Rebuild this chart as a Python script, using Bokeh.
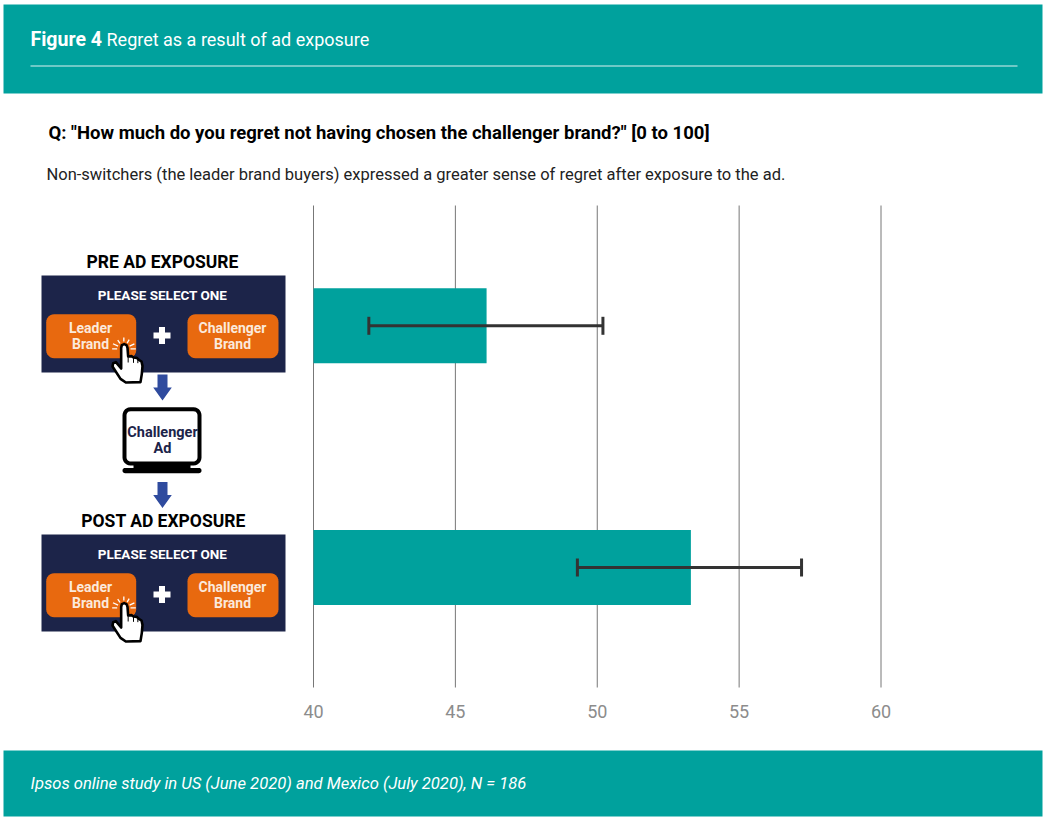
from bokeh.plotting import figure
from bokeh.models import Range1d, LinearAxis, FixedTicker, Whisker, TeeHead, ColumnDataSource
from bokeh.core.properties import value
from bokeh.embed import file_html
from bokeh.resources import INLINE
import math

# ---- data
categories = ["Pre ad exposure", "Post ad exposure"]
regret = [46.1, 53.3]
err_low = [41.95, 49.3]
err_high = [50.2, 57.2]
ticks = [40, 45, 50, 55, 60]

title_bold = "Figure 4"
title_rest = "Regret as a result of ad exposure"
question = 'Q: "How much do you regret not having chosen the challenger brand?" [0 to 100]'
subtitle = "Non-switchers (the leader brand buyers) expressed a greater sense of regret after exposure to the ad."
footer = "Ipsos online study in US (June 2020) and Mexico (July 2020), N = 186"

# ---- style
TEAL = "#00A19D"; NAVY = "#1C2449"; ORANGE = "#E8690F"; BLUE = "#2F4B9E"
W, H = 1049, 821
BODY = value("Roboto")

# the frame fills the canvas; y is measured in pixels from the top
PX_40, PX_60 = 313, 880.5
ppu = (PX_60 - PX_40) / 20
x_range = Range1d(40 - PX_40 / ppu, 40 + (W - PX_40) / ppu)
p = figure(width=W, height=H, x_range=x_range, y_range=Range1d(H, 0),
           output_backend="svg", toolbar_location=None, x_axis_type=None, y_axis_type=None,
           min_border=0, outline_line_color=None, background_fill_color="white")
p.styles = {"position": "absolute", "left": "0px", "top": "0px"}
p.grid.visible = False

# category scale: index 0 at the first bar's centre, index 1 at the second's
Y0, Y1 = 325.3, 567
step = Y1 - Y0
p.extra_y_ranges["cat"] = Range1d(start=(H - Y0) / step, end=-Y0 / step)

def X(px):
    return 40 + (px - PX_40) / ppu

def rrect(x0, y0, x1, y1, r, n=6):
    xs, ys = [], []
    for cx, cy, a0 in [(x1 - r, y0 + r, -90), (x1 - r, y1 - r, 0), (x0 + r, y1 - r, 90), (x0 + r, y0 + r, 180)]:
        for i in range(n + 1):
            a = math.radians(a0 + 90 * i / n)
            xs.append(X(cx + r * math.cos(a))); ys.append(cy + r * math.sin(a))
    return xs, ys

def txt(px, y, s, size, color="black", style="normal", align="left"):
    p.text(x=[X(px)], y=[y], text=[s], text_font=BODY, text_font_size=f"{size}px", text_font_style=style,
           text_color=color, text_align=align, text_baseline="middle")

def box(x0, y0, x1, y1, color):
    p.quad(left=[X(x0)], right=[X(x1)], top=[y0], bottom=[y1], fill_color=color, line_color=None)

# ---- banners
box(3, 4, 1042, 93, TEAL)
box(3, 750, 1042, 816, TEAL)
p.segment(x0=[X(30)], x1=[X(1017)], y0=[65.5], y1=[65.5], line_color="#DDF1F0", line_width=1)
txt(30, 38.5, title_bold, 19.5, "white", "bold")
txt(106, 38.5, title_rest, 18, "white")
txt(30, 782.5, footer, 16.6, "white", "italic")
txt(48, 132.5, question, 18.5, "black", "bold")
txt(46, 173.5, subtitle, 16.5, "#222222")

# ---- chart
p.segment(x0=ticks, x1=ticks, y0=[205] * len(ticks), y1=[687] * len(ticks), line_color="#777777", line_width=1)
src = ColumnDataSource(dict(idx=list(range(len(categories))), left=[ticks[0]] * len(regret), right=regret,
                            low=err_low, high=err_high, name=categories))
p.hbar(y="idx", height=0.31, left="left", right="right", source=src, y_range_name="cat",
       fill_color=TEAL, line_color=None)
p.add_layout(Whisker(source=src, base="idx", lower="low", upper="high", dimension="width", y_range_name="cat",
                     level="overlay", line_color="#333333", line_width=3,
                     lower_head=TeeHead(size=18, line_color="#333333", line_width=3),
                     upper_head=TeeHead(size=18, line_color="#333333", line_width=3)))

ax = LinearAxis(ticker=FixedTicker(ticks=ticks), fixed_location=698, axis_line_color=None,
                major_tick_line_color=None, minor_tick_line_color=None,
                major_label_text_font="Roboto", major_label_text_font_size="18px",
                major_label_text_color="#8C8C8C", major_label_standoff=0)
p.add_layout(ax, "below")

# ---- left-hand schematic
hand_outline = [(272,322),(274,314),(281,311),(288,314),(291,322),(293,348),(303,347),(309,351),(319,352),(325,358),(333,363),
                (336,376),(334,400),(330,425),(286,426),(270,415),(246,378),(248,368),(256,365),(272,384)]
rays = [(180,20,35),(205,19,36),(235,20,32),(270,22,34),(300,20,32),(335,19,35),(0,20,36)]

def panel(dy):
    box(41, 275 + dy, 285, 372 + dy, NAVY)
    txt(162, 294.5 + dy, "PLEASE SELECT ONE", 13.5, "white", "bold", "center")
    for x0, x1 in [(45.7, 135.7), (187, 278)]:
        xs, ys = rrect(x0, 313.7 + dy, x1, 357.7 + dy, 8)
        p.patch(xs, ys, fill_color=ORANGE, line_color=None)
    txt(90, 327 + dy, "Leader", 14, "#FBE9DC", "bold", "center")
    txt(90, 343 + dy, "Brand", 14, "#FBE9DC", "bold", "center")
    txt(232, 327 + dy, "Challenger", 14, "#FBE9DC", "bold", "center")
    txt(232, 343 + dy, "Brand", 14, "#FBE9DC", "bold", "center")
    box(153, 332 + dy, 170, 338 + dy, "white")
    box(158.5, 326.5 + dy, 164.5, 343.5 + dy, "white")
    cx, cy = 30 + 280 / 3, 240 + 325 / 3 + dy
    for a, r0, r1 in rays:
        t = math.radians(a)
        p.segment(x0=[X(cx + r0 / 3 * math.cos(t))], x1=[X(cx + r1 / 3 * math.cos(t))],
                  y0=[cy + r0 / 3 * math.sin(t)], y1=[cy + r1 / 3 * math.sin(t)],
                  line_color="white", line_width=1.3)
    p.patch([X(30 + a / 3) for a, _ in hand_outline], [240 + b / 3 + dy for _, b in hand_outline],
            fill_color="white", line_color="black", line_width=2.6, line_join="round")
    for a, b0, b1 in [(293, 350, 366), (309, 352, 367), (322, 356, 368)]:
        p.segment(x0=[X(30 + a / 3)], x1=[X(30 + a / 3)], y0=[240 + b0 / 3 + dy], y1=[240 + b1 / 3 + dy],
                  line_color="black", line_width=1)

txt(162, 261.5, "PRE AD EXPOSURE", 17.5, "black", "bold", "center")
panel(0)
txt(163, 520.5, "POST AD EXPOSURE", 17.5, "black", "bold", "center")
panel(259)

def arrow(cx, y0, y1):
    p.patch([X(v) for v in (cx - 5, cx + 5, cx + 5, cx + 9.3, cx, cx - 9.3, cx - 5)],
            [y0, y0, y1 - 13, y1 - 13, y1, y1 - 13, y1 - 13], fill_color=BLUE, line_color=None)

arrow(162, 374, 400)
arrow(162, 481.5, 507.5)

# laptop
xs, ys = rrect(124, 408.7, 199, 463, 6)
p.patch(xs, ys, fill_color="white", line_color="black", line_width=4)
p.patch([X(v) for v in (133, 190, 190, 133)], [463, 463, 469, 469], fill_color="black", line_color=None)
xs, ys = rrect(122, 467.5, 201, 472.7, 2.5)
p.patch(xs, ys, fill_color="black", line_color=None)
txt(162, 432, "Challenger", 14.5, "#1C2449", "bold", "center")
txt(162, 448, "Ad", 14.5, "#1C2449", "bold", "center")

open("out.html", "w").write(file_html(p, INLINE))
